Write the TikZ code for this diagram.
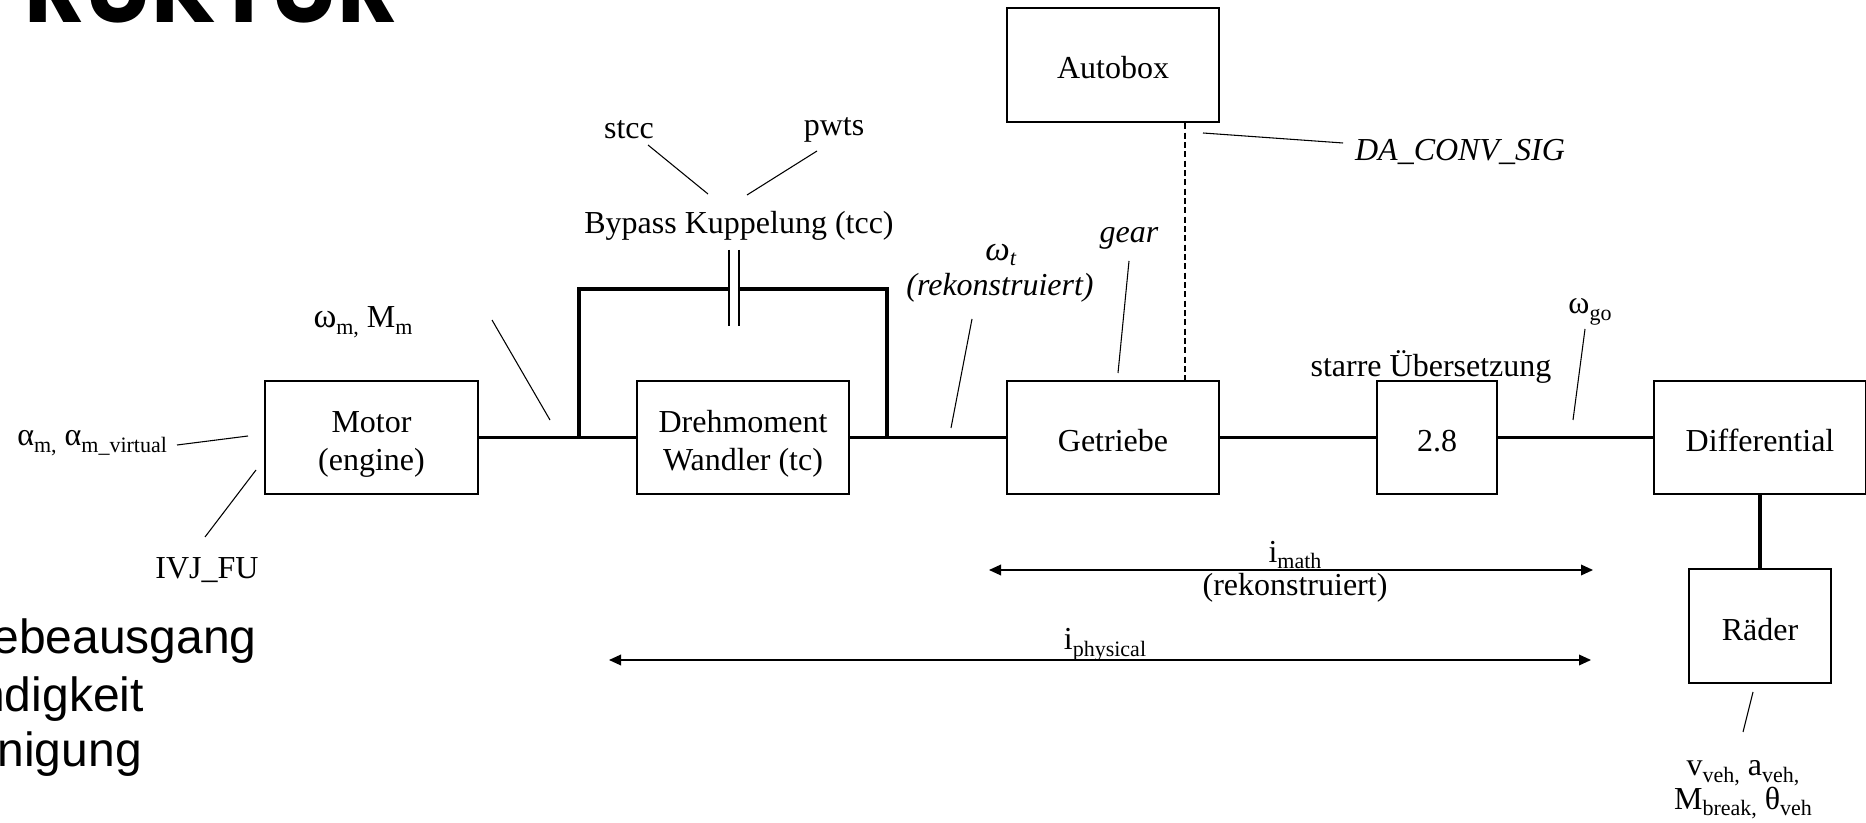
\documentclass[tikz,border=0pt]{standalone}
\usepackage{fontspec}
\setmainfont{Liberation Serif}
\newfontfamily\arialfont{Liberation Sans}
\newfontfamily\titlefont{Poppins}
\usetikzlibrary{arrows.meta}
\newcommand\lo[1]{\raisebox{-5pt}{\fontsize{16.5}{16.5}\selectfont #1}}
\newcommand\dn[2][-5pt]{\raisebox{#1}[\height][\depth]{\begin{tabular}{@{}c@{}}#2\end{tabular}}}
\begin{document}
\begin{tikzpicture}[x=0.75pt,y=-0.75pt,
  box/.style={draw,line width=2.1pt,inner sep=0pt,font=\fontsize{24}{28.5}\selectfont},
  lbl/.style={inner sep=0pt,align=center,font=\fontsize{24}{28.5}\selectfont},
  ilbl/.style={lbl,font=\fontsize{24}{28.5}\selectfont\itshape},
  sans/.style={inner sep=0pt,anchor=base east,font=\arialfont\fontsize{36}{36}\selectfont},
  shaft/.style={line width=2.3pt},
  plate/.style={line width=1.6pt},
  lead/.style={line width=0.8pt},
  dim/.style={line width=1pt,{Triangle[length=9pt,width=8pt]}-{Triangle[length=9pt,width=8pt]}},
  sig/.style={line width=1.9pt,dash pattern=on 4.5pt off 2.5pt},
]
\useasboundingbox (0,0) rectangle (1866,823);

% title fragment and left text fragments
\node[anchor=base west,inner sep=0pt] (title) at (24,23) {\resizebox{280.5pt}{!}{\titlefont\bfseries RUKTUR}};
\node[sans] (s1) at (257,653) {ebeausgang};
\node[sans] (s2) at (144,711) {ndigkeit};
\node[sans] (s3) at (142,766) {nigung};

% boxes
\node[box,minimum width=159.75pt,minimum height=84.75pt] (motor) at (371.5,437.5) {\dn[-4.5pt]{Motor\\(engine)}};
\node[box,minimum width=159pt,minimum height=84.75pt] (tc) at (743,437.5) {\dn[-4.5pt]{Drehmoment\\Wandler (tc)}};
\node[box,minimum width=159pt,minimum height=84.75pt] (getr) at (1113,437.5) {\dn{Getriebe}};
\node[box,minimum width=159pt,minimum height=85.5pt] (auto) at (1113,65) {\dn[-4.5pt]{Autobox}};
\node[box,minimum width=90pt,minimum height=84.75pt] (fix) at (1437,437.5) {\dn{2.8}};
\node[box,minimum width=159pt,minimum height=84.75pt] (diff) at (1760,437.5) {\dn{Differential}};
\node[box,minimum width=106.5pt,minimum height=85.5pt] (rad) at (1760,626) {\dn[-5.3pt]{Räder}};

% shafts
\coordinate (bl) at (579,437);
\coordinate (br) at (887,437);
\coordinate (c1) at (729,289);
\coordinate (c2) at (739,289);
\coordinate (p1t) at (729,250);
\coordinate (p1b) at (729,326);
\coordinate (p2t) at (739,250);
\coordinate (p2b) at (739,326);
\draw[shaft] (motor.east) -- (tc.west);
\draw[shaft] (bl) |- (c1);
\draw[shaft] (c2) -| (br);
\draw[plate] (p1t) -- (p1b);
\draw[plate] (p2t) -- (p2b);
\draw[shaft] (tc.east) -- (getr.west);
\draw[shaft] (getr.east) -- (fix.west);
\draw[shaft] (fix.east) -- (diff.west);
\draw[shaft] (diff.south) -- (rad.north);
\coordinate (dx) at (1185,0);
\draw[sig] (auto.south -| dx) -- (getr.north -| dx);

% labels
\node[lbl] (om) at (363,322) {{\fontsize{26}{26}\selectfont ω}\lo{m,} M\lo{m}};
\node[lbl,anchor=west] (al) at (17,443) {α\lo{m,} α\lo{m\_virtual}};
\node[lbl] (ivj) at (207,570) {IVJ\_FU};
\node[lbl] (stcc) at (629,130) {stcc};
\node[lbl] (pwts) at (834,130) {pwts};
\node[lbl] (byp) at (739,226) {Bypass Kuppelung (tcc)};
\node[ilbl] (wt) at (1001,255) {{\fontsize{26}{26}\selectfont ω}\textsubscript{t}};
\node[ilbl] (wtr) at (1000,288) {(rekonstruiert)};
\node[ilbl] (gear) at (1129,238) {gear};
\node[ilbl] (da) at (1460,152) {DA\_CONV\_SIG};
\node[lbl] (starr) at (1431,367) {starre Übersetzung};
\node[lbl] (wgo) at (1590,312) {ω\lo{go}};
\node[lbl] (imath) at (1295,555) {i\lo{math}};
\node[lbl] (rek) at (1295,588) {(rekonstruiert)};
\node[lbl] (iphys) at (1105,645) {i\lo{physical}};
\node[lbl] (veh1) at (1743,773) {v\lo{veh,} a\lo{veh,}};
\node[lbl] (veh2) at (1743,803) {M\lo{break,} θ\lo{veh}};

% leader lines
\coordinate (la1) at (177,445); \coordinate (la2) at (248,436);
\coordinate (li1) at (205,537); \coordinate (li2) at (256,470);
\coordinate (lm1) at (492,320); \coordinate (lm2) at (550,420);
\coordinate (ls1) at (648,145); \coordinate (ls2) at (708,194);
\coordinate (lp1) at (817,151); \coordinate (lp2) at (747,195);
\coordinate (lt1) at (972,319); \coordinate (lt2) at (951,428);
\coordinate (lg1) at (1129,261); \coordinate (lg2) at (1118,373);
\coordinate (ld1) at (1203,133); \coordinate (ld2) at (1343,143);
\coordinate (lo1) at (1585,329); \coordinate (lo2) at (1573,420);
\coordinate (lr1) at (1753,692); \coordinate (lr2) at (1743,732);
\draw[lead] (la1) -- (la2);
\draw[lead] (li1) -- (li2);
\draw[lead] (lm1) -- (lm2);
\draw[lead] (ls1) -- (ls2);
\draw[lead] (lp1) -- (lp2);
\draw[lead] (lt1) -- (lt2);
\draw[lead] (lg1) -- (lg2);
\draw[lead] (ld1) -- (ld2);
\draw[lead] (lo1) -- (lo2);
\draw[lead] (lr1) -- (lr2);

% dimension arrows
\coordinate (m1) at (989,570); \coordinate (m2) at (1593,570);
\coordinate (q1) at (609,660); \coordinate (q2) at (1591,660);
\draw[dim] (m1) -- (m2);
\draw[dim] (q1) -- (q2);
\end{tikzpicture}
\end{document}
